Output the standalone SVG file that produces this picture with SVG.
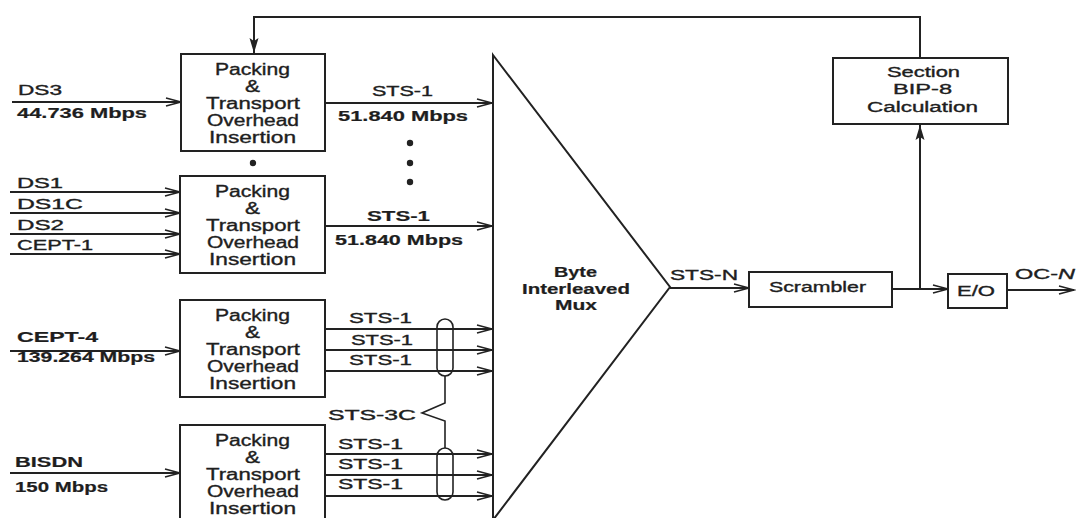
<svg xmlns="http://www.w3.org/2000/svg" width="1078" height="518" viewBox="0 0 1078 518">
<style>
.bx{fill:#fff;stroke:#222;stroke-width:2}
.ln{fill:none;stroke:#222;stroke-width:2}
.ar{marker-end:url(#ah)}
.au{marker-end:url(#au)}
text{font-family:"Liberation Sans",Arial,sans-serif;fill:#1e1e1e;font-size:14px;stroke:#1e1e1e;stroke-width:0.35}
.bt{font-size:16px}
.b{font-weight:bold;stroke-width:0.2}
</style>
<defs>
<marker id="ah" markerUnits="userSpaceOnUse" markerWidth="18" markerHeight="12" refX="16" refY="5" orient="auto">
<path d="M1,1 L16,5 L1,9" fill="none" stroke="#222" stroke-width="1.6"/>
</marker>
<marker id="au" markerUnits="userSpaceOnUse" markerWidth="18" markerHeight="12" refX="15" refY="5" orient="auto">
<path d="M0,0.5 L15,5 L0,9.5 L3,5 z" fill="#222"/>
</marker>
</defs>
<rect width="1078" height="518" fill="#fff"/>

<g id="connectors">
<polyline class="ln au" points="920,58 920,17 254,17 254,53"/>
<line class="ln ar" x1="12" y1="102" x2="181" y2="102"/>
<line class="ln ar" x1="325" y1="103" x2="492" y2="103"/>
<line class="ln ar" x1="10" y1="192" x2="180" y2="192"/>
<line class="ln ar" x1="10" y1="213" x2="180" y2="213"/>
<line class="ln ar" x1="10" y1="234" x2="180" y2="234"/>
<line class="ln ar" x1="10" y1="254" x2="180" y2="254"/>
<line class="ln ar" x1="325" y1="226" x2="492" y2="226"/>
<line class="ln ar" x1="10" y1="351" x2="180" y2="351"/>
<line class="ln ar" x1="325" y1="329" x2="492" y2="329"/>
<line class="ln ar" x1="325" y1="350" x2="492" y2="350"/>
<line class="ln ar" x1="325" y1="371" x2="492" y2="371"/>
<line class="ln ar" x1="10" y1="473" x2="180" y2="473"/>
<line class="ln ar" x1="325" y1="454" x2="492" y2="454"/>
<line class="ln ar" x1="325" y1="475" x2="492" y2="475"/>
<line class="ln ar" x1="325" y1="496" x2="492" y2="496"/>
<rect x="437" y="319" width="16" height="57" rx="8" fill="none" stroke="#222" stroke-width="1.6"/>
<rect x="437" y="448" width="16" height="52" rx="8" fill="none" stroke="#222" stroke-width="1.6"/>
<polyline fill="none" stroke="#222" stroke-width="1.6" points="445,376 445,403 422,413 445,421 445,448"/>
<line class="ln ar" x1="670" y1="288" x2="749" y2="288"/>
<line class="ln ar" x1="892" y1="289" x2="948" y2="289"/>
<line class="ln au" x1="920" y1="289" x2="920" y2="125"/>
<line class="ln ar" x1="1007" y1="290" x2="1074" y2="290"/>
<circle cx="253" cy="163" r="3.2" fill="#222"/>
<circle cx="410" cy="143" r="3.2" fill="#222"/>
<circle cx="410" cy="163" r="3.2" fill="#222"/>
<circle cx="410" cy="182" r="3.2" fill="#222"/>
</g>

<g id="labels">
<text x="18" y="95" textLength="44" lengthAdjust="spacingAndGlyphs">DS3</text>
<text class="b" x="17" y="118" textLength="130" lengthAdjust="spacingAndGlyphs">44.736 Mbps</text>
<text x="372" y="96" textLength="61" lengthAdjust="spacingAndGlyphs">STS-1</text>
<text class="b" x="338" y="121" textLength="130" lengthAdjust="spacingAndGlyphs">51.840 Mbps</text>
<text x="17" y="188" textLength="46" lengthAdjust="spacingAndGlyphs">DS1</text>
<text x="17" y="209" textLength="66" lengthAdjust="spacingAndGlyphs">DS1C</text>
<text x="17" y="230" textLength="47" lengthAdjust="spacingAndGlyphs">DS2</text>
<text x="17" y="250" textLength="76" lengthAdjust="spacingAndGlyphs">CEPT-1</text>
<text class="b" x="367" y="221" textLength="63" lengthAdjust="spacingAndGlyphs">STS-1</text>
<text class="b" x="335" y="245" textLength="128" lengthAdjust="spacingAndGlyphs">51.840 Mbps</text>
<text class="b" x="17" y="342" textLength="81" lengthAdjust="spacingAndGlyphs">CEPT-4</text>
<text class="b" x="17" y="362" textLength="138" lengthAdjust="spacingAndGlyphs">139.264 Mbps</text>
<text x="349" y="323" textLength="63" lengthAdjust="spacingAndGlyphs">STS-1</text>
<text x="351" y="345" textLength="62" lengthAdjust="spacingAndGlyphs">STS-1</text>
<text x="349" y="365" textLength="63" lengthAdjust="spacingAndGlyphs">STS-1</text>
<text x="328" y="420" textLength="88" lengthAdjust="spacingAndGlyphs">STS-3C</text>
<text x="338" y="449" textLength="65" lengthAdjust="spacingAndGlyphs">STS-1</text>
<text x="338" y="469" textLength="65" lengthAdjust="spacingAndGlyphs">STS-1</text>
<text x="338" y="489" textLength="65" lengthAdjust="spacingAndGlyphs">STS-1</text>
<text class="b" x="15" y="467" textLength="68" lengthAdjust="spacingAndGlyphs">BISDN</text>
<text class="b" x="15" y="492" textLength="93" lengthAdjust="spacingAndGlyphs">150 Mbps</text>
<text x="670" y="280" textLength="68" lengthAdjust="spacingAndGlyphs">STS-N</text>
<text x="1015" y="279" textLength="60" lengthAdjust="spacingAndGlyphs">OC-<tspan font-style="italic">N</tspan></text>
</g>

<g id="pack1">
<rect class="bx" x="181" y="54" width="144" height="97"/>
<text class="bt" x="215" y="75" textLength="75" lengthAdjust="spacingAndGlyphs">Packing</text>
<text class="bt" x="245" y="92" textLength="15" lengthAdjust="spacingAndGlyphs">&amp;</text>
<text class="bt" x="206" y="109" textLength="94" lengthAdjust="spacingAndGlyphs">Transport</text>
<text class="bt" x="207" y="126" textLength="92" lengthAdjust="spacingAndGlyphs">Overhead</text>
<text class="bt" x="209" y="143" textLength="87" lengthAdjust="spacingAndGlyphs">Insertion</text>
</g>
<g id="pack2">
<rect class="bx" x="180" y="176" width="145" height="97"/>
<text class="bt" x="215" y="197" textLength="75" lengthAdjust="spacingAndGlyphs">Packing</text>
<text class="bt" x="245" y="214" textLength="15" lengthAdjust="spacingAndGlyphs">&amp;</text>
<text class="bt" x="206" y="231" textLength="94" lengthAdjust="spacingAndGlyphs">Transport</text>
<text class="bt" x="207" y="248" textLength="92" lengthAdjust="spacingAndGlyphs">Overhead</text>
<text class="bt" x="209" y="265" textLength="87" lengthAdjust="spacingAndGlyphs">Insertion</text>
</g>
<g id="pack3">
<rect class="bx" x="180" y="300" width="145" height="97"/>
<text class="bt" x="215" y="321" textLength="75" lengthAdjust="spacingAndGlyphs">Packing</text>
<text class="bt" x="245" y="338" textLength="15" lengthAdjust="spacingAndGlyphs">&amp;</text>
<text class="bt" x="206" y="355" textLength="94" lengthAdjust="spacingAndGlyphs">Transport</text>
<text class="bt" x="207" y="372" textLength="92" lengthAdjust="spacingAndGlyphs">Overhead</text>
<text class="bt" x="209" y="389" textLength="87" lengthAdjust="spacingAndGlyphs">Insertion</text>
</g>
<g id="pack4">
<rect class="bx" x="180" y="425" width="145" height="97"/>
<text class="bt" x="215" y="446" textLength="75" lengthAdjust="spacingAndGlyphs">Packing</text>
<text class="bt" x="245" y="463" textLength="15" lengthAdjust="spacingAndGlyphs">&amp;</text>
<text class="bt" x="206" y="480" textLength="94" lengthAdjust="spacingAndGlyphs">Transport</text>
<text class="bt" x="207" y="497" textLength="92" lengthAdjust="spacingAndGlyphs">Overhead</text>
<text class="bt" x="209" y="514" textLength="87" lengthAdjust="spacingAndGlyphs">Insertion</text>
</g>

<g id="mux">
<polygon class="bx" points="493,55 670,287 493,520"/>
<text class="b" x="554" y="277" textLength="43" lengthAdjust="spacingAndGlyphs">Byte</text>
<text class="b" x="522" y="294" textLength="108" lengthAdjust="spacingAndGlyphs">Interleaved</text>
<text class="b" x="555" y="310" textLength="42" lengthAdjust="spacingAndGlyphs">Mux</text>
</g>

<g id="scrambler">
<rect class="bx" x="749" y="272" width="143" height="35"/>
<text x="769" y="292" textLength="97" lengthAdjust="spacingAndGlyphs">Scrambler</text>
</g>

<g id="eo">
<rect class="bx" x="948" y="274" width="59" height="34"/>
<text x="957" y="296" textLength="38" lengthAdjust="spacingAndGlyphs">E/O</text>
</g>

<g id="bip8">
<rect class="bx" x="833" y="58" width="175" height="66"/>
<text x="887" y="77" textLength="73" lengthAdjust="spacingAndGlyphs">Section</text>
<text x="893" y="94" textLength="59" lengthAdjust="spacingAndGlyphs">BIP-8</text>
<text x="867" y="112" textLength="111" lengthAdjust="spacingAndGlyphs">Calculation</text>
</g>
</svg>
